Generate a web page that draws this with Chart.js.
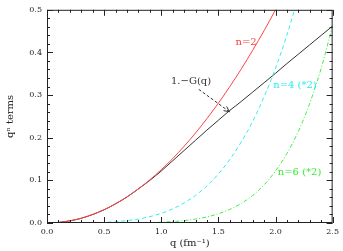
<!DOCTYPE html>
<html>
<head>
<meta charset="utf-8">
<script src="https://cdn.jsdelivr.net/npm/chart.js@4"></script>
<style>
  html, body { margin: 0; padding: 0; background: #fff; }
  #wrap { width: 343px; height: 251px; }
</style>
</head>
<body>
<div id="wrap"><canvas id="qterms" width="343" height="251"></canvas></div>
<script>
// values
const qValues   = [0.1, 0.2, 0.3, 0.4, 0.5, 0.6, 0.7, 0.8, 0.9, 1.0,
                   1.1, 1.2, 1.3, 1.4, 1.5, 1.6, 1.7, 1.8, 1.9, 2.0,
                   2.1, 2.2, 2.3, 2.4, 2.5];
const oneMinusG = [0.0012, 0.005, 0.011, 0.020, 0.031, 0.045, 0.061, 0.080, 0.100, 0.122,
                   0.146, 0.170, 0.194, 0.218, 0.241, 0.264, 0.285, 0.307, 0.329, 0.351,
                   0.374, 0.396, 0.418, 0.440, 0.462];
const termN2    = [0.0013, 0.005, 0.0113, 0.020, 0.0313, 0.045, 0.0613, 0.080, 0.1013, 0.125,
                   0.151, 0.180, 0.211, 0.245, 0.281, 0.320, 0.361, 0.405, 0.451, 0.500,
                   0.551];
const termN4    = [0, 0.00004, 0.0002, 0.0006, 0.0014, 0.0029, 0.0055, 0.0093, 0.0149, 0.0227,
                   0.0332, 0.0471, 0.0648, 0.0872, 0.115, 0.149, 0.190, 0.238, 0.296, 0.363,
                   0.441, 0.531];
const termN6    = [0, 0, 0, 0, 0.00003, 0.0001, 0.0002, 0.0005, 0.001, 0.0019,
                   0.0034, 0.0057, 0.0092, 0.0143, 0.0216, 0.0319, 0.0459, 0.0646, 0.0894, 0.122,
                   0.163, 0.215, 0.281, 0.363, 0.464];
const xTickLabels = ['0.0', '0.5', '1.0', '1.5', '2.0', '2.5'];
const yTickLabels = ['0.0', '0.1', '0.2', '0.3', '0.4', '0.5'];

const FONT = "'DejaVu Serif', serif";
const AXIS = '#222';

function pts(vals) {
  return vals.map((v, i) => ({ x: qValues[i], y: v }));
}

// inward ticks on all four sides + box, plus the text labels and arrow
const framePlugin = {
  id: 'frame',
  afterDraw(chart) {
    const { ctx, chartArea: a, scales: { x, y } } = chart;
    ctx.save();
    ctx.strokeStyle = AXIS;
    ctx.lineWidth = 1;
    ctx.strokeRect(a.left + 0.5, a.top + 0.5, a.right - a.left - 1, a.bottom - a.top - 1);
    ctx.beginPath();
    for (let i = 0; i <= 25; i++) {
      const px = Math.round(x.getPixelForValue(i * 0.1)) + 0.5;
      const len = i % 5 === 0 ? 6 : 3;
      ctx.moveTo(px, a.bottom); ctx.lineTo(px, a.bottom - len);
      ctx.moveTo(px, a.top); ctx.lineTo(px, a.top + len);
    }
    for (let i = 0; i <= 25; i++) {
      const py = Math.round(y.getPixelForValue(i * 0.02)) + 0.5;
      const len = i % 5 === 0 ? 6 : 3;
      ctx.moveTo(a.left, py); ctx.lineTo(a.left + len, py);
      ctx.moveTo(a.right, py); ctx.lineTo(a.right - len, py);
    }
    ctx.stroke();

    // curve labels, placed in data units
    const notes = [
      { t: 'n=2',      q: 1.65, v: 0.423, c: '#ff3b3b' },
      { t: 'n=4 (*2)', q: 1.98, v: 0.323, c: '#22eeee' },
      { t: 'n=6 (*2)', q: 2.02, v: 0.119, c: '#33ee33' },
      { t: '1.\u2212G(q)', q: 1.085, v: 0.333, c: '#333' }
    ];
    ctx.font = '10px ' + FONT;
    ctx.textBaseline = 'middle';
    ctx.textAlign = 'left';
    notes.forEach(n => {
      ctx.fillStyle = n.c;
      ctx.fillText(n.t, x.getPixelForValue(n.q), y.getPixelForValue(n.v));
    });

    // dashed arrow to the 1-G(q) curve
    const x0 = x.getPixelForValue(1.328), y0 = y.getPixelForValue(0.3135);
    const x1 = x.getPixelForValue(1.597), y1 = y.getPixelForValue(0.261);
    ctx.strokeStyle = '#333';
    ctx.setLineDash([3, 2]);
    ctx.beginPath();
    ctx.moveTo(x0, y0); ctx.lineTo(x1, y1);
    ctx.stroke();
    ctx.setLineDash([]);
    const ang = Math.atan2(y1 - y0, x1 - x0);
    ctx.beginPath();
    [0.45, -0.45].forEach(d => {
      ctx.moveTo(x1, y1);
      ctx.lineTo(x1 - 6 * Math.cos(ang + d), y1 - 6 * Math.sin(ang + d));
    });
    ctx.stroke();
    ctx.restore();
  }
};

new Chart(document.getElementById('qterms'), {
  type: 'line',
  data: {
    datasets: [
      { label: 'n=2', data: pts(termN2), borderColor: '#ff4444', borderWidth: 1 },
      { label: 'n=4 (*2)', data: pts(termN4), borderColor: '#33eeee', borderWidth: 1, borderDash: [4, 3] },
      { label: 'n=6 (*2)', data: pts(termN6), borderColor: '#44ee44', borderWidth: 1, borderDash: [4, 2, 1, 2] },
      { label: '1.-G(q)', data: pts(oneMinusG), borderColor: '#333', borderWidth: 1 }
    ]
  },
  options: {
    responsive: false,
    animation: false,
    events: [],
    parsing: true,
    elements: { point: { radius: 0 }, line: { cubicInterpolationMode: 'monotone' } },
    layout: { padding: { top: 4, right: 8, left: 0, bottom: 0 } },
    plugins: { legend: { display: false }, tooltip: { enabled: false } },
    scales: {
      x: {
        type: 'linear', min: 0, max: 2.5,
        afterFit: s => { s.height = 28; },
        grid: { display: false, drawTicks: false },
        border: { display: false },
        ticks: {
          stepSize: 0.5, padding: 4, color: AXIS,
          font: { family: FONT, size: 8 },
          callback: (v) => xTickLabels[Math.round(v / 0.5)]
        },
        title: {
          display: true, text: 'q (fm\u207B\u00B9)', color: AXIS,
          font: { family: FONT, size: 10 }, padding: { top: 0, bottom: 2 }
        }
      },
      y: {
        type: 'linear', min: 0, max: 0.5,
        afterFit: s => { s.width = 47; },
        grid: { display: false, drawTicks: false },
        border: { display: false },
        ticks: {
          stepSize: 0.1, padding: 5, color: AXIS,
          font: { family: FONT, size: 8 },
          callback: (v) => yTickLabels[Math.round(v / 0.1)]
        },
        title: {
          display: true, text: 'q\u207F terms', color: AXIS,
          font: { family: FONT, size: 10 }, padding: { top: 4, bottom: 0 }
        }
      }
    }
  },
  plugins: [framePlugin]
});
</script>
</body>
</html>
